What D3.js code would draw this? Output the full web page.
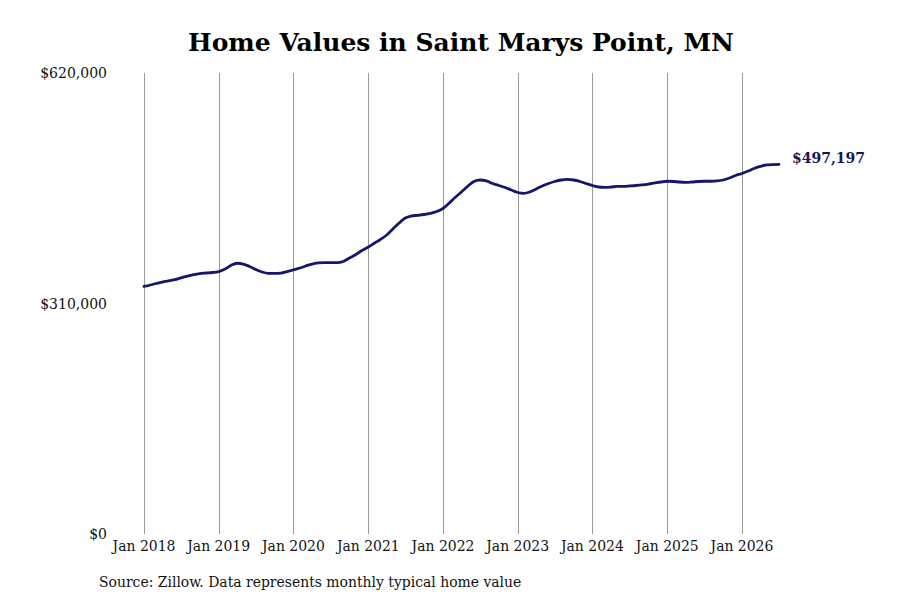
<!DOCTYPE html>
<html lang="en">
<head>
    <meta charset="UTF-8">
    <title>Home Values in Saint Marys Point, MN</title>
    <script src="https://d3js.org/d3.v7.min.js"></script>
    <style>
        body {
            margin: 0;
            padding: 0;
            background-color: #ffffff;
        }
        svg {
            display: block;
            font-family: 'DejaVu Serif', serif;
        }
        .title {
            font-size: 25px;
            font-weight: bold;
            fill: #000;
            text-anchor: middle;
        }
        .y-label {
            font-size: 14px;
            fill: #111;
            text-anchor: end;
        }
        .x-label, .source {
            font-family: 'DejaVu Serif Condensed', 'DejaVu Serif', serif;
            font-stretch: condensed;
            font-size: 15.5px;
            fill: #111;
        }
        .grid-line {
            stroke: #9a9a9a;
            stroke-width: 1;
        }
        .end-label {
            font-size: 14px;
            font-weight: bold;
            fill: #16165a;
        }
    </style>
</head>
<body>
    <svg width="900" height="600"></svg>

    <script>
        // monthly typical home value, Jan 2018 - Jul 2026
        const startMonth = new Date(2018, 0, 1);
        const homeValues = [
            332900, 334900, 336900, 338900, 340300, 342100, 344500, 346800, 348900, 350300, 351000, 351700,
            353000, 356400, 361100, 364100, 363100, 359800, 355700, 352400, 350600, 350400, 351000, 353000,
            355100, 357700, 360400, 363100, 364500, 365100, 364900, 364900, 366500, 371200, 375900, 381300,
            386000, 391400, 396100, 402100, 410200, 418300, 425000, 427700, 428600, 429700, 431300, 433700,
            437800, 445200, 452600, 460000, 467400, 474100, 476100, 474800, 471400, 468700, 466000, 462700,
            459300, 458200, 460000, 464000, 468000, 471400, 474100, 476100, 477000, 476100, 474100, 471400,
            468700, 466700, 466300, 466700, 467400, 467400, 468000, 468700, 469600, 470700, 472100, 473400,
            474400, 474100, 473400, 473000, 473400, 474100, 474400, 474400, 474800, 476100, 478800, 482200,
            484800, 488200, 491600, 494300, 496300, 496900, 497197
        ];
        const tickYears = [2018, 2019, 2020, 2021, 2022, 2023, 2024, 2025, 2026];
        const yTicks = [0, 310000, 620000];

        const data = homeValues.map(function(v, i) {
            return { date: d3.timeMonth.offset(startMonth, i), value: v };
        });

        const svg = d3.select("svg");

        const xScale = d3.scaleTime()
                         .domain(d3.extent(data, function(d) { return d.date; }))
                         .range([144, 779]);

        const yScale = d3.scaleLinear()
                         .domain([0, 620000])
                         .range([534, 73]);

        svg.append("text")
           .attr("class", "title")
           .attr("x", 461)
           .attr("y", 51)
           .text("Home Values in Saint Marys Point, MN");

        const tickDates = tickYears.map(function(y) { return new Date(y, 0, 1); });

        svg.selectAll(".grid-line")
           .data(tickDates)
           .enter()
           .append("line")
           .attr("class", "grid-line")
           .attr("x1", function(d) { return Math.round(xScale(d)) + 0.5; })
           .attr("x2", function(d) { return Math.round(xScale(d)) + 0.5; })
           .attr("y1", yScale(620000))
           .attr("y2", yScale(0));

        svg.selectAll(".x-label")
           .data(tickDates)
           .enter()
           .append("text")
           .attr("class", "x-label")
           .attr("x", function(d) { return xScale(d); })
           .attr("y", 551)
           .attr("text-anchor", "middle")
           .text(d3.timeFormat("Jan %Y"));

        svg.selectAll(".y-label")
           .data(yTicks)
           .enter()
           .append("text")
           .attr("class", "y-label")
           .attr("x", 107)
           .attr("y", function(d) { return yScale(d) + 5; })
           .text(function(d) { return "$" + d3.format(",")(d); });

        const line = d3.line()
                       .x(function(d) { return xScale(d.date); })
                       .y(function(d) { return yScale(d.value); })
                       .curve(d3.curveMonotoneX);

        svg.append("path")
           .datum(data)
           .attr("fill", "none")
           .attr("stroke", "#16166b")
           .attr("stroke-width", 2.8)
           .attr("stroke-linejoin", "round")
           .attr("stroke-linecap", "round")
           .attr("d", line);

        const last = data[data.length - 1];
        svg.append("text")
           .attr("class", "end-label")
           .attr("x", xScale(last.date) + 13)
           .attr("y", yScale(last.value) - 1)
           .text("$" + d3.format(",")(last.value));

        svg.append("text")
           .attr("class", "source")
           .attr("x", 99)
           .attr("y", 587)
           .text("Source: Zillow. Data represents monthly typical home value");
    </script>
</body>
</html>
